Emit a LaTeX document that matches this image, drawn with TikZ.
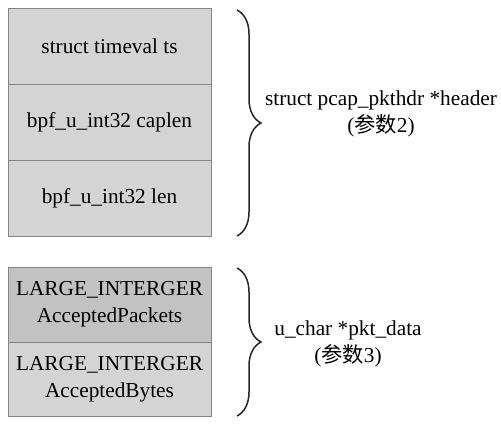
\documentclass[tikz,border=0pt]{standalone}
\usepackage{fontspec}
\setmainfont{Liberation Serif}
\newfontfamily\cjk{Noto Sans CJK SC}
\usetikzlibrary{decorations.pathreplacing}
\definecolor{cellfill}{HTML}{D4D4D4}
\definecolor{darkfill}{HTML}{C2C2C2}
\definecolor{cellline}{HTML}{858585}
\tikzset{
  cell/.style={draw=cellline, line width=0.9pt, fill=cellfill, minimum width=203pt, minimum height=76pt, inner sep=0pt, align=center, font=\fontsize{21.3}{27}\selectfont},
  darkcell/.style={cell, fill=darkfill},
  brc/.style={decorate, decoration={brace, amplitude=24pt, aspect=0.5}, line width=1.5pt, black!85},
  lbl/.style={align=center, font=\fontsize{21.3}{27}\selectfont, inner sep=0pt}
}
\begin{document}
\begin{tikzpicture}[x=1pt,y=-1pt]
\useasboundingbox (0,0) rectangle (501,424);
\fill[white] (0,0) rectangle (501,424);
\node[cell] (ts) at (109.5,46) {struct timeval ts};
\node[cell] (caplen) at (109.5,122) {bpf\_u\_int32 caplen};
\node[cell] (len) at (109.5,198) {bpf\_u\_int32 len};
\node[darkcell, minimum height=75pt] (pkts) at (109.5,304.5) {LARGE\_INTERGER\\AcceptedPackets};
\node[cell, minimum height=74pt] (bytes) at (109.5,379) {LARGE\_INTERGER\\AcceptedBytes};
\draw[brc] (237,10) -- (237,236);
\draw[brc] (237,268) -- (237,416);
\node[lbl] (hdr) at (381,113.5) {struct pcap\_pkthdr *header\\({\cjk 参数}2)};
\node[lbl] (pkt) at (348,343.5) {u\_char *pkt\_data\\({\cjk 参数}3)};
\end{tikzpicture}
\end{document}
